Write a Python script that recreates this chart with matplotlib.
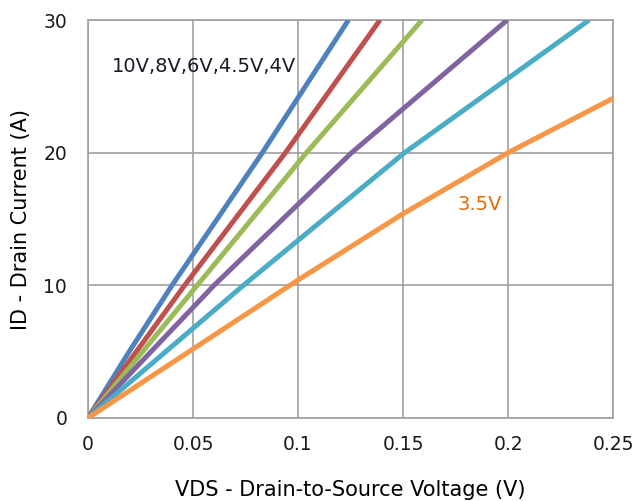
import matplotlib
matplotlib.use("Agg")
import matplotlib.pyplot as plt

# VDS (V) vs ID (A), one pair of lists per gate voltage
vds_10v = [0, 0.020, 0.040, 0.083, 0.124]
id_10v = [0, 5.1, 10, 20, 30]
vds_8v = [0, 0.023, 0.046, 0.094, 0.139]
id_8v = [0, 5.0, 10, 20, 30]
vds_6v = [0, 0.026, 0.052, 0.104, 0.159]
id_6v = [0, 5.0, 10, 20, 30]
vds_45v = [0, 0.030, 0.060, 0.1255, 0.1996]
id_45v = [0, 5.0, 10, 20, 30]
vds_4v = [0, 0.037, 0.074, 0.1507, 0.2386]
id_4v = [0, 5.0, 10, 20, 30]
vds_35v = [0, 0.05, 0.10, 0.15, 0.20, 0.25]
id_35v = [0, 5.2, 10.4, 15.4, 20.0, 24.1]

x_ticks = [0, 0.05, 0.1, 0.15, 0.2, 0.25]
x_tick_labels = ["0", "0.05", "0.1", "0.15", "0.2", "0.25"]
y_ticks = [0, 10, 20, 30]

plt.rcParams["font.family"] = ["DejaVu Sans"]

fig = plt.figure(figsize=(6.4, 5.01), dpi=100)
ax = fig.add_axes([0.1375, 0.1657, 0.8205, 0.7943])

series = [
    (vds_10v, id_10v, "#4F81BD"),
    (vds_8v, id_8v, "#C0504D"),
    (vds_6v, id_6v, "#9BBB59"),
    (vds_45v, id_45v, "#8064A2"),
    (vds_4v, id_4v, "#4BACC6"),
    (vds_35v, id_35v, "#F79646"),
]
for xs, ys, c in series:
    ax.plot(xs, ys, color=c, linewidth=3.6, solid_capstyle="butt", zorder=3)

ax.set_xlim(0, 0.25)
ax.set_ylim(0, 30)
ax.set_xticks(x_ticks)
ax.set_xticklabels(x_tick_labels)
ax.set_yticks(y_ticks)
ax.grid(True, color="#A0A0A0", linewidth=1.2)
for s in ax.spines.values():
    s.set_color("#A0A0A0")
    s.set_linewidth(1.2)
ax.tick_params(length=0, labelsize=13.5, colors="#1a1a1a")
ax.tick_params(axis="x", pad=12)
ax.tick_params(axis="y", pad=15)

ax.set_xlabel("VDS - Drain-to-Source Voltage (V)", fontsize=15, labelpad=19)
ax.set_ylabel("ID - Drain Current (A)", fontsize=15, labelpad=9)

ax.text(0.0114, 26.5, "10V,8V,6V,4.5V,4V", fontsize=14, color="#1a1a2a",
        va="center", ha="left")
ax.text(0.176, 16.1, "3.5V", fontsize=14, color="#E46C0A", va="center", ha="left")

plt.savefig("out.png", dpi=100)
plt.close()
